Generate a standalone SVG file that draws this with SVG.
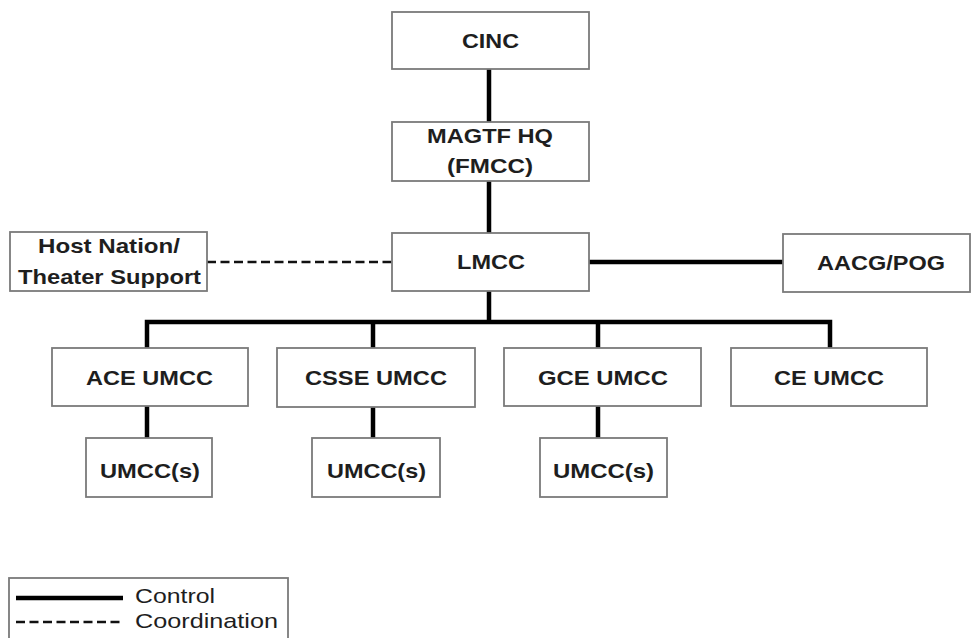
<svg xmlns="http://www.w3.org/2000/svg" width="971" height="638" viewBox="0 0 971 638">
<style>
.box{fill:#fff;stroke:#7a7a7a;stroke-width:1.8}
.t{font-family:"Liberation Sans",Arial,sans-serif;font-weight:bold;font-size:21px;fill:#1e1e1e}
.lt{font-family:"Liberation Sans",Arial,sans-serif;font-size:21px;fill:#1e1e1e}
.ctl{stroke:#000;stroke-width:4.5;fill:none}
.crd{stroke:#111;stroke-width:2.4;stroke-dasharray:9 4.5;fill:none}
</style>
<rect x="0" y="0" width="971" height="638" fill="#fff"/>
<g id="connectors">
<line class="ctl" x1="489" y1="69" x2="489" y2="122"/>
<line class="ctl" x1="489" y1="181" x2="489" y2="233"/>
<line class="ctl" x1="489" y1="291" x2="489" y2="322"/>
<polyline class="ctl" points="147,348 147,322 830,322 830,348"/>
<line class="ctl" x1="373" y1="322" x2="373" y2="348"/>
<line class="ctl" x1="598" y1="322" x2="598" y2="348"/>
<line class="ctl" x1="147" y1="406" x2="147" y2="438"/>
<line class="ctl" x1="373" y1="407" x2="373" y2="438"/>
<line class="ctl" x1="598" y1="406" x2="598" y2="438"/>
<line class="ctl" x1="589" y1="262" x2="783" y2="262"/>
<line class="crd" x1="207" y1="262" x2="392" y2="262"/>
</g>
<g id="cinc"><rect class="box" x="392" y="12" width="197" height="57"/><text class="t" x="462" y="48" textLength="57" lengthAdjust="spacingAndGlyphs">CINC</text></g>
<g id="magtf"><rect class="box" x="392" y="122" width="197" height="59"/><text class="t" x="427" y="143" textLength="126" lengthAdjust="spacingAndGlyphs">MAGTF HQ</text><text class="t" x="447" y="173" textLength="86" lengthAdjust="spacingAndGlyphs">(FMCC)</text></g>
<g id="lmcc"><rect class="box" x="392" y="233" width="197" height="58"/><text class="t" x="457" y="269" textLength="68" lengthAdjust="spacingAndGlyphs">LMCC</text></g>
<g id="host"><rect class="box" x="10" y="232" width="197" height="59"/><text class="t" x="38" y="253" textLength="142" lengthAdjust="spacingAndGlyphs">Host Nation/</text><text class="t" x="18" y="284" textLength="183" lengthAdjust="spacingAndGlyphs">Theater Support</text></g>
<g id="aacg"><rect class="box" x="783" y="234" width="187" height="58"/><text class="t" x="817" y="270" textLength="128" lengthAdjust="spacingAndGlyphs">AACG/POG</text></g>
<g id="ace"><rect class="box" x="52" y="348" width="196" height="58"/><text class="t" x="86" y="385" textLength="127" lengthAdjust="spacingAndGlyphs">ACE UMCC</text></g>
<g id="csse"><rect class="box" x="277" y="348" width="198" height="59"/><text class="t" x="305" y="385" textLength="142" lengthAdjust="spacingAndGlyphs">CSSE UMCC</text></g>
<g id="gce"><rect class="box" x="504" y="348" width="197" height="58"/><text class="t" x="538" y="385" textLength="130" lengthAdjust="spacingAndGlyphs">GCE UMCC</text></g>
<g id="ce"><rect class="box" x="731" y="348" width="196" height="58"/><text class="t" x="774" y="385" textLength="110" lengthAdjust="spacingAndGlyphs">CE UMCC</text></g>
<g id="ace-umcc"><rect class="box" x="86" y="438" width="126" height="59"/><text class="t" x="100" y="478" textLength="100" lengthAdjust="spacingAndGlyphs">UMCC(s)</text></g>
<g id="csse-umcc"><rect class="box" x="312" y="438" width="128" height="59"/><text class="t" x="327" y="478" textLength="99" lengthAdjust="spacingAndGlyphs">UMCC(s)</text></g>
<g id="gce-umcc"><rect class="box" x="540" y="438" width="127" height="59"/><text class="t" x="553" y="478" textLength="101" lengthAdjust="spacingAndGlyphs">UMCC(s)</text></g>
<g id="legend">
<rect class="box" x="9" y="578" width="279" height="70"/>
<line class="ctl" x1="16" y1="598" x2="123" y2="598"/>
<line class="crd" x1="16" y1="622" x2="123" y2="622" stroke-dasharray="9 6"/>
<text class="lt" x="135" y="603" textLength="80" lengthAdjust="spacingAndGlyphs">Control</text>
<text class="lt" x="135" y="628" textLength="143" lengthAdjust="spacingAndGlyphs">Coordination</text>
</g>
</svg>
